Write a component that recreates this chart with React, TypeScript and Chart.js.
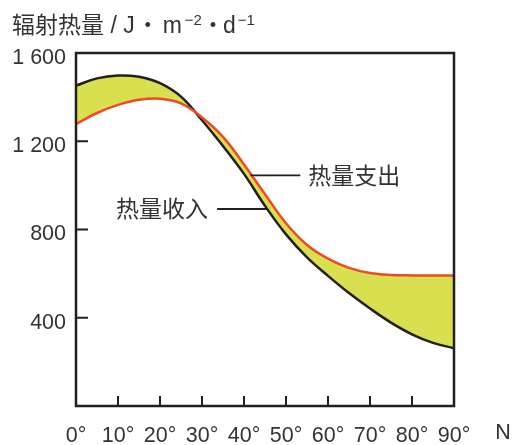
import React, { useEffect, useRef } from "react";
import { Chart, registerables } from "chart.js";

Chart.register(...registerables);

// Latitude (°N)
const latitudes = [0, 5, 10, 15, 20, 25, 30, 35, 40, 45, 50, 55, 60, 65, 70, 75, 80, 85, 90];
// 热量收入 (heat income), J·m⁻²·d⁻¹
const heatIncome = [1452, 1485, 1498, 1492, 1463, 1402, 1295, 1178, 1052, 907, 778, 674, 590, 512, 442, 378, 325, 286, 262];
// 热量支出 (heat expenditure)
const heatExpenditure = [1278, 1328, 1365, 1388, 1393, 1372, 1308, 1220, 1095, 960, 828, 730, 668, 626, 603, 594, 592, 592, 592];

const xTicks = [0, 10, 20, 30, 40, 50, 60, 70, 80, 90];
const yTicks = [400, 800, 1200, 1600];
const innerXTicks = [10, 20, 30, 40, 50, 60, 70, 80];
const innerYTicks = [400, 800, 1200];

const titleHead = "辐射热量 / J";
const titleDot = "・";
const titleM = "m";
const titleSup1 = "−2";
const titleD = "d";
const titleSup2 = "−1";
const xUnit = "N";
const incomeLabel = "热量收入";
const expenditureLabel = "热量支出";
// anchor points (data coordinates) of the leader lines
const incomeAnchor = { x: 45.5, y: 893 };
const expenditureAnchor = { x: 41.5, y: 1045 };

const FONT = '"Liberation Sans", "Noto Sans CJK SC", sans-serif';
const TEXT = "#333333";
const INK = "#231f20";

const decor = {
  id: "decor",
  afterDraw(chart: any) {
    const { ctx, chartArea: a, scales } = chart;
    const x = scales.x;
    const y = scales.y;
    ctx.save();
    // frame
    ctx.strokeStyle = INK;
    ctx.lineWidth = 2.5;
    ctx.strokeRect(a.left, a.top, a.right - a.left, a.bottom - a.top);
    // inner ticks
    ctx.lineWidth = 2;
    ctx.beginPath();
    innerXTicks.forEach((v) => {
      const px = x.getPixelForValue(v);
      ctx.moveTo(px, a.bottom);
      ctx.lineTo(px, a.bottom - 10);
    });
    innerYTicks.forEach((v) => {
      const py = y.getPixelForValue(v);
      ctx.moveTo(a.left, py);
      ctx.lineTo(a.left + 12, py);
    });
    ctx.stroke();

    // N unit
    ctx.fillStyle = TEXT;
    ctx.font = `21.5px ${FONT}`;
    ctx.textBaseline = "alphabetic";
    ctx.textAlign = "center";
    ctx.fillText(xUnit, a.right + 49, a.bottom + 33);

    // title
    ctx.textAlign = "left";
    const big = `23px ${FONT}`;
    const small = `15px ${FONT}`;
    const base = 33;
    let cx = 12;
    ctx.font = big;
    ctx.fillText(titleHead, cx, base);
    cx += ctx.measureText(titleHead).width;
    ctx.textAlign = "center";
    ctx.fillText(titleDot, cx + 13, base);
    ctx.textAlign = "left";
    cx += 28;
    ctx.fillText(titleM, cx, base);
    cx += ctx.measureText(titleM).width + 3;
    ctx.font = small;
    ctx.fillText(titleSup1, cx, base - 8);
    cx += ctx.measureText(titleSup1).width;
    ctx.font = big;
    ctx.textAlign = "center";
    ctx.fillText(titleDot, cx + 11, base);
    ctx.textAlign = "left";
    cx += 21;
    ctx.fillText(titleD, cx, base);
    cx += ctx.measureText(titleD).width + 2;
    ctx.font = small;
    ctx.fillText(titleSup2, cx, base - 8);

    // leaders
    ctx.strokeStyle = INK;
    ctx.lineWidth = 1.8;
    const ex = x.getPixelForValue(expenditureAnchor.x);
    const ey = y.getPixelForValue(expenditureAnchor.y);
    const ix = x.getPixelForValue(incomeAnchor.x);
    const iy = y.getPixelForValue(incomeAnchor.y);
    ctx.beginPath();
    ctx.moveTo(ex, ey);
    ctx.lineTo(ex + 50, ey);
    ctx.moveTo(ix, iy);
    ctx.lineTo(ix - 50, iy);
    ctx.stroke();
    ctx.font = big;
    ctx.textBaseline = "middle";
    ctx.textAlign = "left";
    ctx.fillText(expenditureLabel, ex + 58, ey + 2);
    ctx.textAlign = "right";
    ctx.fillText(incomeLabel, ix - 59, iy + 2);
    ctx.restore();
  },
};

export default function App() {
  const ref = useRef<HTMLCanvasElement>(null);
  useEffect(() => {
    document.body.style.margin = "0";
    const chart = new Chart(ref.current!, {
      type: "line",
      data: {
        datasets: [
          {
            label: expenditureLabel,
            data: latitudes.map((lat, i) => ({ x: lat, y: heatExpenditure[i] })),
            borderColor: "#ef4a24",
            borderWidth: 2.5,
            backgroundColor: "#d8e04f",
            fill: "+1",
            pointRadius: 0,
            tension: 0.4,
            order: 0,
          },
          {
            label: incomeLabel,
            data: latitudes.map((lat, i) => ({ x: lat, y: heatIncome[i] })),
            borderColor: INK,
            borderWidth: 2.5,
            fill: false,
            pointRadius: 0,
            tension: 0.4,
            order: 1,
          },
        ],
      },
      options: {
        responsive: false,
        animation: false,
        devicePixelRatio: 1,
        layout: { padding: { top: 53, right: 61, left: 0, bottom: 0 } },
        plugins: {
          legend: { display: false },
          tooltip: { enabled: false },
          filler: { drawTime: "beforeDatasetsDraw" },
        },
        scales: {
          x: {
            type: "linear",
            min: 0,
            max: 90,
            grid: { display: false, drawTicks: false },
            border: { display: false },
            afterBuildTicks: (s: any) => {
              s.ticks = xTicks.map((v) => ({ value: v }));
            },
            ticks: {
              callback: (v: any) => `${v}°`,
              color: TEXT,
              font: { size: 21.5, family: FONT },
              padding: 17,
              maxRotation: 0,
              autoSkip: false,
            },
            afterFit: (s: any) => {
              s.height = 39;
            },
          },
          y: {
            type: "linear",
            min: 0,
            max: 1600,
            grid: { display: false, drawTicks: false },
            border: { display: false },
            afterBuildTicks: (s: any) => {
              s.ticks = yTicks.map((v) => ({ value: v }));
            },
            ticks: {
              callback: (v: any) => {
                const n = Number(v);
                return n >= 1000 ? `${Math.floor(n / 1000)} ${String(n % 1000).padStart(3, "0")}` : `${n}`;
              },
              color: TEXT,
              font: { size: 21.5, family: FONT },
              padding: 10,
              labelOffset: 5,
            },
            afterFit: (s: any) => {
              s.width = 76;
            },
          },
        },
      },
      plugins: [decor],
    });
    return () => chart.destroy();
  }, []);
  return (
    <div style={{ width: 515, height: 445, background: "#fff" }}>
      <canvas ref={ref} width={515} height={445} />
    </div>
  );
}
